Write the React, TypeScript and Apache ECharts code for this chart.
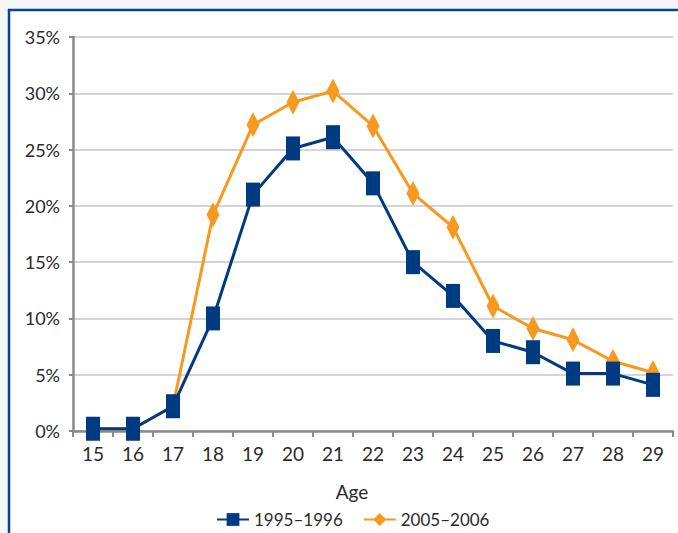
import React, { useEffect, useRef } from "react";
import * as echarts from "echarts";

const ages = ["15", "16", "17", "18", "19", "20", "21", "22", "23", "24", "25", "26", "27", "28", "29"];
const series1995 = [0.2, 0.2, 2.2, 10.0, 21.0, 25.1, 26.1, 22.0, 15.0, 12.0, 8.0, 7.0, 5.1, 5.1, 4.1];
const series2005 = [0.2, 0.2, 2.2, 19.2, 27.2, 29.2, 30.2, 27.1, 21.1, 18.1, 11.1, 9.1, 8.1, 6.2, 5.2];
const yTicks = [0, 5, 10, 15, 20, 25, 30, 35];

const FONT = "Lato, 'Noto Sans', sans-serif";
const BLUE = "#003a80";
const ORANGE = "#f7991f";
const TEXT = "#2a2a2a";

export default function App() {
  const ref = useRef<HTMLDivElement>(null);
  useEffect(() => {
    if (!ref.current) return;
    const chart = echarts.init(ref.current, null, { renderer: "svg" });
    chart.setOption({
      animation: false,
      backgroundColor: "#f6f6f6",
      graphic: [
        {
          type: "rect",
          z: -10,
          shape: { x: 9, y: 10, width: 700, height: 560 },
          style: { fill: "#ffffff", stroke: "#0b4592", lineWidth: 2.5 },
        },
      ],
      grid: { left: 73, right: 5, top: 37, bottom: 102, containLabel: false },
      legend: {
        left: 211,
        top: 506,
        itemWidth: 32,
        itemHeight: 16,
        itemGap: 20,
        textStyle: { fontFamily: FONT, fontSize: 17, color: TEXT },
        data: ["1995–1996", "2005–2006"],
      },
      xAxis: {
        type: "category",
        data: ages,
        boundaryGap: true,
        name: "Age",
        nameLocation: "middle",
        nameGap: 51,
        nameTextStyle: { fontFamily: FONT, fontSize: 19, color: TEXT, padding: [0, 42, 0, 0] },
        axisLine: { lineStyle: { color: "#8a8a8a", width: 2.5 } },
        axisTick: { show: true, length: 6, lineStyle: { color: "#8a8a8a", width: 2 } },
        axisLabel: { fontFamily: FONT, fontSize: 19, color: TEXT, margin: 13 },
        splitLine: { show: false },
      },
      yAxis: {
        type: "value",
        min: 0,
        max: 35,
        interval: 5,
        axisLine: { show: true, lineStyle: { color: "#8a8a8a", width: 2.5 } },
        axisTick: { show: true, length: 4, lineStyle: { color: "#8a8a8a", width: 2 } },
        axisLabel: {
          fontFamily: FONT,
          fontSize: 18,
          color: TEXT,
          margin: 13,
          formatter: (v: number) => (yTicks.includes(v) ? `${v}%` : ""),
        },
        splitLine: { show: true, lineStyle: { color: "#d4d4d4", width: 2 } },
      },
      series: [
        {
          name: "2005–2006",
          type: "line",
          data: series2005,
          z: 2,
          symbol: "diamond",
          symbolSize: [13, 25],
          itemStyle: { color: ORANGE },
          lineStyle: { color: ORANGE, width: 3 },
        },
        {
          name: "1995–1996",
          type: "line",
          data: series1995,
          z: 3,
          symbol: "rect",
          symbolSize: [14, 24],
          itemStyle: { color: BLUE },
          lineStyle: { color: BLUE, width: 3 },
        },
      ],
    });
    return () => chart.dispose();
  }, []);
  return (
    <div
      ref={ref}
      style={{ position: "fixed", left: 0, top: 0, width: 678, height: 533 }}
    />
  );
}
